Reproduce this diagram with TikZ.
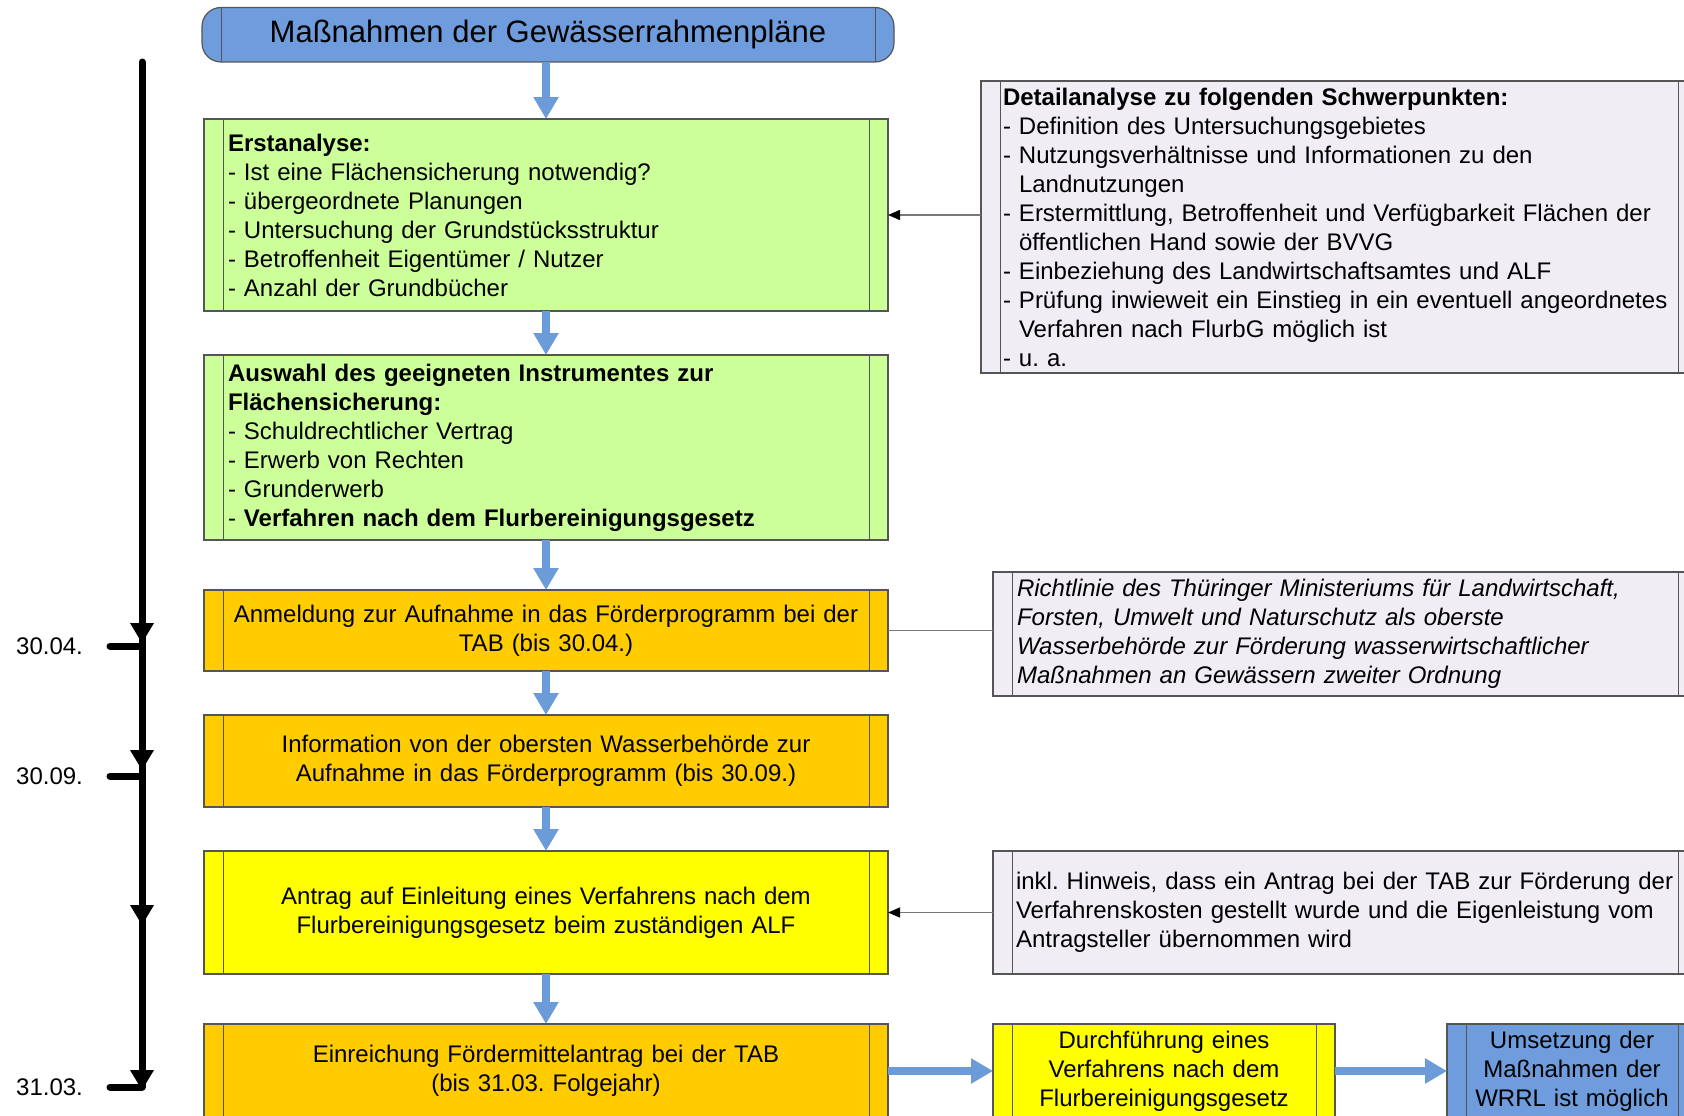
\documentclass[tikz,border=0pt]{standalone}
\usepackage{fontspec}
\setmainfont{Liberation Sans}
\usetikzlibrary{arrows.meta,calc}

\definecolor{headblue}{RGB}{110,156,220}
\definecolor{arrowblue}{RGB}{108,155,218}
\definecolor{lgreen}{RGB}{204,255,153}
\definecolor{amber}{RGB}{255,204,0}
\definecolor{lemon}{RGB}{255,255,0}
\definecolor{lavender}{RGB}{240,237,244}
\definecolor{boxline}{RGB}{85,85,85}
\definecolor{connline}{RGB}{120,120,120}

% indent for wrapped list items
\newcommand\contind{\hphantom{- }}

\begin{document}
\frenchspacing
\begin{tikzpicture}[x=1pt,y=-1pt,
  txt/.style={font=\fontsize{24}{29}\selectfont},
  box/.style={txt, draw=boxline, line width=1.2pt, anchor=north west,
    inner ysep=0pt, outer sep=0pt,
    path picture={\draw[boxline,line width=1pt]
      ([xshift=19pt]path picture bounding box.north west) -- ([xshift=19pt]path picture bounding box.south west)
      ([xshift=-19pt]path picture bounding box.north east) -- ([xshift=-19pt]path picture bounding box.south east);}},
  flow/.style={draw=arrowblue, line width=8pt, -{Triangle[width=24pt,length=22pt]}},
  conn/.style={draw=connline, line width=1.5pt, -{Triangle[color=black,width=10pt,length=12pt]}},
  link/.style={draw=connline, line width=1.5pt},
  tl/.style={line width=7pt, line cap=round},
  tlhead/.style={fill=black},
  datelabel/.style={txt, anchor=west, inner sep=0pt}
]
\useasboundingbox (0,0) rectangle (1684,1116);
\clip (0,0) rectangle (1684,1116);
\fill[white] (0,0) rectangle (1684,1116);

% main column
\node[box, fill=headblue, rounded corners=19pt, minimum width=692pt, minimum height=54.5pt,
      align=center, font=\fontsize{31}{37}\selectfont] (title) at (202,7.5) {Maßnahmen der Gewässerrahmenpläne};

\node[box, fill=lgreen, align=left, inner xsep=24pt, text width=636pt,
      minimum width=684pt, minimum height=192pt] (erst) at (204,119)
{\textbf{Erstanalyse:}\\
- Ist eine Flächensicherung notwendig?\\
- übergeordnete Planungen\\
- Untersuchung der Grundstücksstruktur\\
- Betroffenheit Eigentümer / Nutzer\\
- Anzahl der Grundbücher};

\node[box, fill=lgreen, align=left, inner xsep=24pt, text width=636pt,
      minimum width=684pt, minimum height=185pt] (ausw) at (204,355)
{\textbf{Auswahl des geeigneten Instrumentes zur}\\
\textbf{Flächensicherung:}\\
- Schuldrechtlicher Vertrag\\
- Erwerb von Rechten\\
- Grunderwerb\\
- \textbf{Verfahren nach dem Flurbereinigungsgesetz}};

\node[box, fill=amber, align=center, inner xsep=24pt, text width=636pt,
      minimum width=684pt, minimum height=81pt] (anm) at (204,590)
{Anmeldung zur Aufnahme in das Förderprogramm bei der\\ TAB (bis 30.04.)};

\node[box, fill=amber, align=center, inner xsep=24pt, text width=636pt,
      minimum width=684pt, minimum height=92pt] (info) at (204,715)
{Information von der obersten Wasserbehörde zur\\ Aufnahme in das Förderprogramm (bis 30.09.)};

\node[box, fill=lemon, align=center, inner xsep=24pt, text width=636pt,
      minimum width=684pt, minimum height=123pt] (antr) at (204,851)
{Antrag auf Einleitung eines Verfahrens nach dem\\ Flurbereinigungsgesetz beim zuständigen ALF};

\node[box, fill=amber, align=center, inner xsep=24pt, text width=636pt,
      minimum width=684pt, minimum height=94pt] (einr) at (204,1024)
{Einreichung Fördermittelantrag bei der TAB\\ (bis 31.03. Folgejahr)};

% side notes
\node[box, fill=lavender, align=left, inner xsep=22pt, text width=672pt,
      minimum width=716pt, minimum height=292pt] (detail) at (981,81)
{\textbf{Detailanalyse zu folgenden Schwerpunkten:}\\
- Definition des Untersuchungsgebietes\\
- Nutzungsverhältnisse und Informationen zu den\\
\contind Landnutzungen\\
\mbox{- Erstermittlung, Betroffenheit und Verfügbarkeit Flächen der}\\
\contind öffentlichen Hand sowie der BVVG\\
- Einbeziehung des Landwirtschaftsamtes und ALF\\
\mbox{- Prüfung inwieweit ein Einstieg in ein eventuell angeordnetes}\\
\contind Verfahren nach FlurbG möglich ist\\
- u. a.};

\node[box, fill=lavender, align=left, inner xsep=24pt, text width=656pt,
      minimum width=704pt, minimum height=124pt] (richt) at (993,572)
{\itshape Richtlinie des Thüringer Ministeriums für Landwirtschaft,\\
Forsten, Umwelt und Naturschutz als oberste\\
Wasserbehörde zur Förderung wasserwirtschaftlicher\\
Maßnahmen an Gewässern zweiter Ordnung};

\node[box, fill=lavender, align=left, inner xsep=23pt, text width=658pt,
      minimum width=704pt, minimum height=123pt] (inkl) at (993,851)
{\mbox{inkl. Hinweis, dass ein Antrag bei der TAB zur Förderung der}\\
Verfahrenskosten gestellt wurde und die Eigenleistung vom\\
Antragsteller übernommen wird};

\node[box, fill=lemon, align=center, inner xsep=20pt, text width=302pt,
      minimum width=342pt, minimum height=94pt] (durch) at (993,1024)
{Durchführung eines\\ Verfahrens nach dem\\ Flurbereinigungsgesetz};

\node[box, fill=headblue, align=center, inner xsep=20pt, text width=210pt,
      minimum width=250pt, minimum height=94pt] (ums) at (1447,1024)
{Umsetzung der\\ Maßnahmen der\\ WRRL ist möglich};

% flow arrows
\draw[flow] (erst.north |- title.south) -- (erst.north);
\draw[flow] (erst.south) -- (ausw.north);
\draw[flow] (ausw.south) -- (anm.north);
\draw[flow] (anm.south) -- (info.north);
\draw[flow] (info.south) -- (antr.north);
\draw[flow] (antr.south) -- (einr.north);
\draw[flow] (einr.east |- durch.west) -- (durch.west);
\draw[flow] (durch.east) -- (ums.west);

% side connectors
\draw[conn] (erst.east -| detail.west) -- (erst.east);
\draw[link] (anm.east) -- (anm.east -| richt.west);
\draw[conn] (antr.east -| inkl.west) -- (antr.east);

% time line
\coordinate (tltop) at (142,62);
\coordinate (tlend) at (142,1087);
\coordinate (k1) at (142,646);
\coordinate (k2) at (142,776);
\coordinate (k4) at (142,1087);
\coordinate (h1) at (142,643);
\coordinate (h2) at (142,770);
\coordinate (h3) at (142,925);
\coordinate (h4) at (142,1090);
\draw[tl] (tltop) -- (tlend);
\draw[tl] (k1) -- ++(-32,0);
\draw[tl] (k2) -- ++(-32,0);
\draw[tl] (k4) -- ++(-32,0);
\foreach \h in {h1,h2,h3,h4}
  \fill[tlhead] (\h) -- ++(-12,-20) -- ++(24,0) -- cycle;
\node[datelabel] (d1) at (16,646) {30.04.};
\node[datelabel] (d2) at (16,776) {30.09.};
\node[datelabel] (d4) at (16,1087) {31.03.};
\end{tikzpicture}
\end{document}
